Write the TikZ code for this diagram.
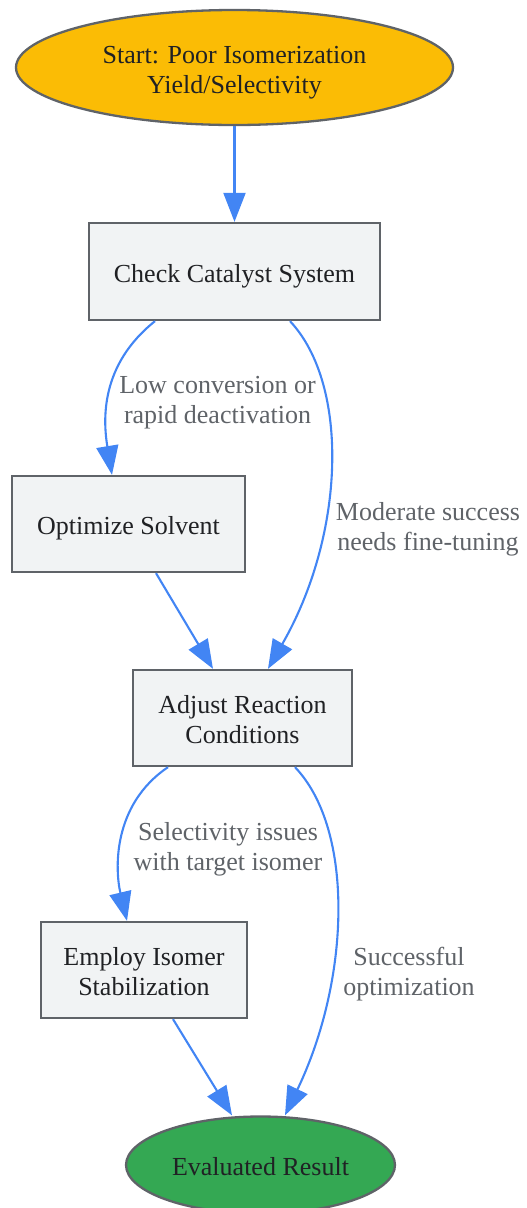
\documentclass[tikz,border=0pt]{standalone}
\usepackage{fontspec}
\setmainfont{Liberation Serif}
\usetikzlibrary{shapes.geometric,arrows.meta}
\definecolor{edgeblue}{HTML}{4285F4}
\definecolor{bordergray}{HTML}{5F6368}
\definecolor{boxfill}{HTML}{F1F3F4}
\definecolor{startfill}{HTML}{FBBC05}
\definecolor{endfill}{HTML}{34A853}
\definecolor{txt}{HTML}{202124}
\definecolor{lbl}{HTML}{5F6368}
\newcommand\hstr{\rule{0pt}{27pt}}
\newcommand\dstr{\rule[-6pt]{0pt}{0pt}}
\tikzset{
  base/.style={draw=bordergray, line width=2.3pt, text=txt, inner sep=0pt, align=center,
    font=\fontsize{26}{30}\selectfont},
  stepbox/.style={base, rectangle, fill=boxfill},
  oval/.style={base, ellipse},
  edge/.style={draw=edgeblue, line width=2.1pt, -{Triangle[length=29pt,width=22pt]}},
  elabel/.style={text=lbl, align=center, font=\fontsize{26}{30}\selectfont, inner sep=0pt}
}
\begin{document}
\begin{tikzpicture}[x=1pt,y=-1pt]
\useasboundingbox (0,0) rectangle (527,1208);
\node[oval, fill=startfill, minimum width=437pt, minimum height=115pt] (start) at (234.5,67.5) {\hstr Start: Poor Isomerization\\Yield/Selectivity\dstr};
\node[stepbox, minimum width=291pt, minimum height=97pt] (check) at (234.5,271.5) {\hstr Check Catalyst System\dstr};
\node[stepbox, minimum width=233pt, minimum height=96pt] (opt) at (128.5,524) {\hstr Optimize Solvent\dstr};
\node[stepbox, minimum width=219pt, minimum height=96pt] (adj) at (242.5,718) {\hstr Adjust Reaction\\Conditions\dstr};
\node[stepbox, minimum width=206pt, minimum height=96pt] (emp) at (144,970) {\hstr Employ Isomer\\Stabilization\dstr};
\node[oval, fill=endfill, minimum width=269pt, minimum height=97pt] (eval) at (260.5,1165) {\hstr Evaluated Result\dstr};

\draw[edge] (start) -- (check);
\draw[edge] ([xshift=-79.5pt]check.south) .. controls (100,365) and (103,420) .. ([xshift=-16.5pt]opt.north);
\draw[edge] ([xshift=55.5pt]check.south) .. controls (350,385) and (345,535) .. ([xshift=25.5pt]adj.north);
\draw[edge] ([xshift=27.5pt]opt.south) -- ([xshift=-29.5pt]adj.north);
\draw[edge] ([xshift=-74.5pt]adj.south) .. controls (112,805) and (115,870) .. ([xshift=-17pt]emp.north);
\draw[edge] ([xshift=52.5pt]adj.south) .. controls (355,830) and (350,980) .. ([xshift=24.5pt]eval.north);
\draw[edge] ([xshift=29pt]emp.south) -- ([xshift=-28.5pt]eval.north);

\node[elabel] (l1) at (217.5,397.5) {\hstr Low conversion or\\rapid deactivation\dstr};
\node[elabel] (l2) at (428,524.5) {\hstr Moderate success\\needs fine-tuning\dstr};
\node[elabel] (l3) at (228,844.5) {\hstr Selectivity issues\\with target isomer\dstr};
\node[elabel] (l4) at (409,969.5) {\hstr Successful\\optimization\dstr};
\end{tikzpicture}
\end{document}
